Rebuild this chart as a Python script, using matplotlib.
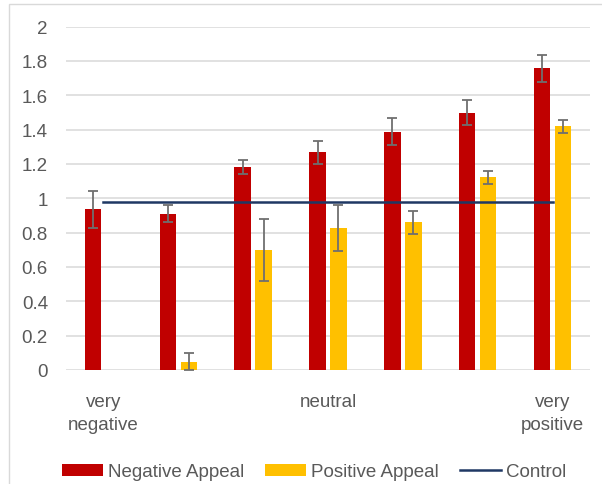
import numpy as np
import matplotlib.pyplot as plt
from matplotlib.patches import Rectangle

plt.rcParams['font.family'] = ['Liberation Sans', 'DejaVu Sans']

# Данные
categories = ["very\nnegative", "", "", "neutral", "", "", "very\npositive"]
negative_appeal = [0.935, 0.91, 1.182, 1.268, 1.388, 1.499, 1.757]
negative_err = [0.11, 0.05, 0.04, 0.067, 0.08, 0.071, 0.078]
positive_appeal = [np.nan, 0.048, 0.70, 0.825, 0.86, 1.122, 1.419]
positive_err = [np.nan, 0.05, 0.18, 0.133, 0.066, 0.037, 0.038]
control = [0.977] * 7

red = '#C00000'
yellow = '#FFC000'
navy = '#1F3864'
grey_text = '#595959'

fig = plt.figure(figsize=(6.02, 4.85), dpi=100)
ax = fig.add_axes([66 / 602, 114 / 485, 524 / 602, 343.5 / 485])

x = np.arange(len(categories))
w = 0.22
off = 0.14
err_kw = dict(ecolor='#6f6f6f', elinewidth=1.3, capsize=3.5, capthick=1.3)

b1 = ax.bar(x - off, negative_appeal, w, color=red, yerr=negative_err,
            error_kw=err_kw, label='Negative Appeal', zorder=2)
b2 = ax.bar(x + off, positive_appeal, w, color=yellow, yerr=positive_err,
            error_kw=err_kw, label='Positive Appeal', zorder=2)
l1, = ax.plot(x, control, color=navy, lw=1.8, label='Control', zorder=3)

ax.set_xlim(-0.5, len(categories) - 0.5)
ax.set_ylim(0, 2)
ax.set_yticks(np.arange(0, 2.01, 0.2))
ax.set_yticklabels(['0', '0.2', '0.4', '0.6', '0.8', '1', '1.2', '1.4', '1.6', '1.8', '2'])
ax.set_xticks(x)
ax.set_xticklabels(categories, linespacing=1.45)
ax.tick_params(axis='both', length=0, labelsize=13.5, colors=grey_text)
ax.tick_params(axis='y', pad=13)
ax.tick_params(axis='x', pad=16.5)
ax.grid(axis='y', color='#D9D9D9', lw=1.1, zorder=0)
ax.set_axisbelow(True)
for s in ax.spines.values():
    s.set_visible(False)

# рамка диаграммы
fig.patches.append(Rectangle((8.5 / 602, -0.1), 1.2, (485 - 4.5) / 485 + 0.1,
                             transform=fig.transFigure, fill=False,
                             edgecolor='#D9D9D9', lw=1.0))

fig.legend(handles=[b1, b2, l1], loc='center', bbox_to_anchor=(314 / 602, 12 / 485),
           ncol=3, frameon=False, fontsize=13.5, labelcolor=grey_text,
           handlelength=2.2, handleheight=0.55, handletextpad=0.27,
           columnspacing=1.1)

fig.savefig('out.png', dpi=100)
